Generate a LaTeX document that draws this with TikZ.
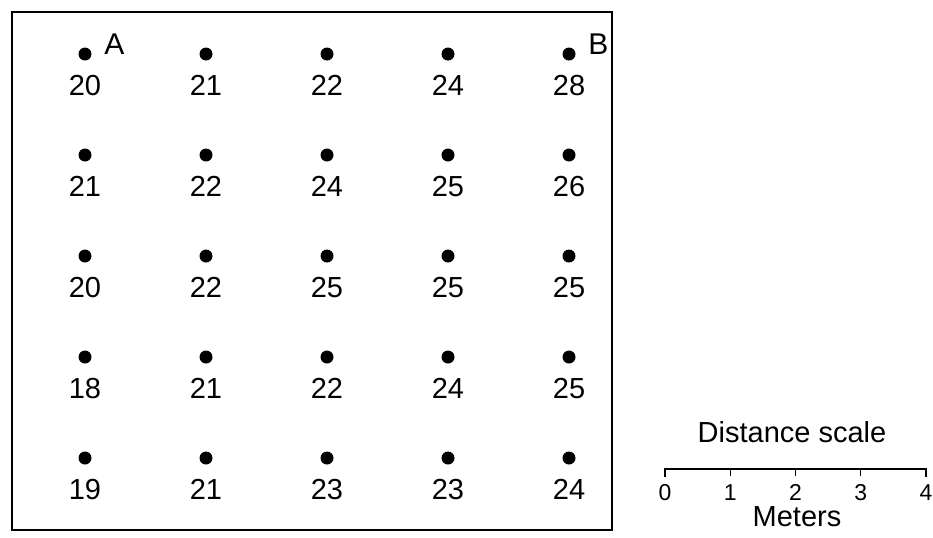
\documentclass[tikz,border=0pt]{standalone}
\usepackage{fontspec}
\setmainfont{Liberation Sans}
\usetikzlibrary{positioning}

\begin{document}
\begin{tikzpicture}[x=0.5pt,y=-0.5pt,
  pt/.style={circle,fill=black,inner sep=0pt,minimum size=6.5pt},
  val/.style={font=\fontsize{14.5}{16}\selectfont,inner sep=0pt,anchor=base},
  lbl/.style={font=\fontsize{15}{16}\selectfont,inner sep=0pt,anchor=base west},
  sc/.style={font=\fontsize{11.5}{13}\selectfont,inner sep=0pt,anchor=base}]
  \useasboundingbox[fill=white] (0,0) rectangle (933,537);
  \draw[line width=1pt] (12,12) rectangle (612,530);
  % grid of sample points
  \foreach \row [count=\r from 0] in {{20,21,22,24,28},{21,22,24,25,26},{20,22,25,25,25},{18,21,22,24,25},{19,21,23,23,24}} {
    \foreach \v [count=\c from 0] in \row {
      \node[pt] (d\r\c) at (85+121*\c,54+101*\r) {};
      \node[val] (v\r\c) at (85+121*\c,95+101*\r) {\v};
    }
  }
  \node[lbl] (labA) at ([xshift=6pt]d00.east) {A};
  \node[lbl] (labB) at ([xshift=6pt]d04.east) {B};
  % scale bar
  \foreach \i in {0,...,4}
    \coordinate (s\i) at (665+65.25*\i,469);
  \draw[line width=0.6pt] ([yshift=-4pt]s0) -- (s0) -- (s4) -- ([yshift=-4pt]s4);
  \foreach \i in {1,2,3}
    \draw[line width=0.6pt] (s\i) -- ([yshift=-3.5pt]s\i);
  \foreach \i in {0,...,4}
    \node[sc] (n\i) at (665+65.25*\i,500) {\i};
  \node[val] (title) at (792,442) {Distance scale};
  \node[val] (unit) at (797,526) {Meters};
\end{tikzpicture}
\end{document}
